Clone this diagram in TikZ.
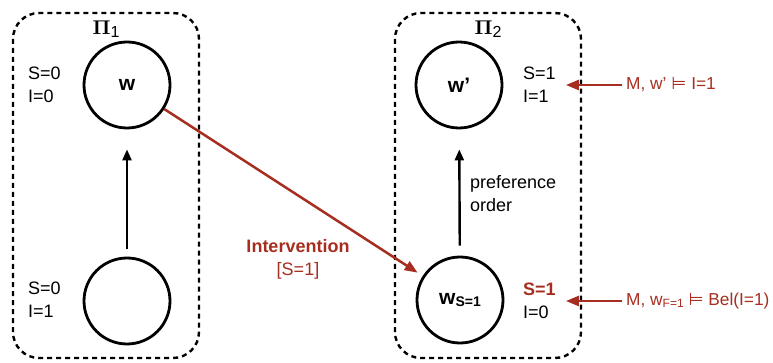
\documentclass[tikz,border=0pt]{standalone}
\usepackage[no-math]{fontspec}
\usepackage{graphicx}
\setmainfont{Liberation Sans}
\newfontfamily\symbolfont{DejaVu Sans}
\usetikzlibrary{arrows.meta}
\definecolor{interv}{RGB}{166,46,32}
\newcommand{\entails}{ {\symbolfont ⊨} }
\begin{document}
\begin{tikzpicture}[x=1pt,y=-1pt,
  world/.style={circle,draw,line width=2.8pt,minimum size=86pt,inner sep=0pt,
    font=\fontsize{21}{24}\selectfont\bfseries},
  frame/.style={draw,line width=2.4pt,dash pattern=on 5pt off 4pt,rounded corners=26pt},
  txt/.style={font=\fontsize{18}{23}\selectfont,inner sep=0pt,align=left},
  claim/.style={font=\fontsize{17.3}{22}\selectfont,inner sep=0pt,text=interv,anchor=west},
  blackarrow/.style={line width=2.4pt,-{Triangle[length=11pt,width=9pt]}},
  redarrow/.style={draw=interv,line width=2.5pt,-{Triangle[length=13pt,width=10pt]}},
]
\useasboundingbox (0,0) rectangle (773,363);

% the two plausibility frames
\draw[frame] (13,13) rectangle (199,358);
\draw[frame] (395,13) rectangle (581,358);

\node (pi1) at (106,29) {\scalebox{2}{$\mathbf{\Pi}$}\raisebox{-3pt}{\fontsize{16}{16}\selectfont 1}};
\node (pi2) at (488,29) {\scalebox{2}{$\mathbf{\Pi}$}\raisebox{-3pt}{\fontsize{16}{16}\selectfont 2}};

% worlds
\node[world] (w)  at (127,85)  {w};
\node[world] (wb) at (127,301) {};
\node[world] (wp) at (459,85)  {w’};
\node[world] (ws) at (460,300) {w\raisebox{-2pt}{\fontsize{14}{14}\selectfont S=1}};

% valuations
\node[txt,anchor=west] (l1) at (28,85)  {S=0\\I=0};
\node[txt,anchor=west] (l2) at (28,300) {S=0\\I=1};
\node[txt,anchor=west] (l3) at (523,85) {S=1\\I=1};
\node[txt,anchor=west] (l4) at (523,301) {\textcolor{interv}{\bfseries S=1}\\I=0};

% ordering arrows
\draw[blackarrow,shorten <=8pt,shorten >=20pt] (wb) -- (w);
\draw[blackarrow,shorten <=10pt,shorten >=20pt] (ws) -- (wp);
\node[txt,anchor=west] (po) at (470,194) {preference\\order};

% intervention
\node[txt,align=center,text=interv] (iv) at (298,259) {\bfseries Intervention\\{[S=1]}};
\draw[redarrow,shorten >=6pt] (w) -- (ws);

% satisfaction claims
\node[claim] (m1) at (626,85) {M, w’\entails I=1};
\node[claim] (m2) at (626,301) {M, w\raisebox{-2pt}{\fontsize{12}{12}\selectfont F=1}\entails Bel(I=1)};
\draw[redarrow,shorten <=4pt,shorten >=10pt] (m1.west) -- (l3.east);
\draw[redarrow,shorten <=4pt,shorten >=10pt] (m2.west) -- (l4.east);
\end{tikzpicture}
\end{document}
